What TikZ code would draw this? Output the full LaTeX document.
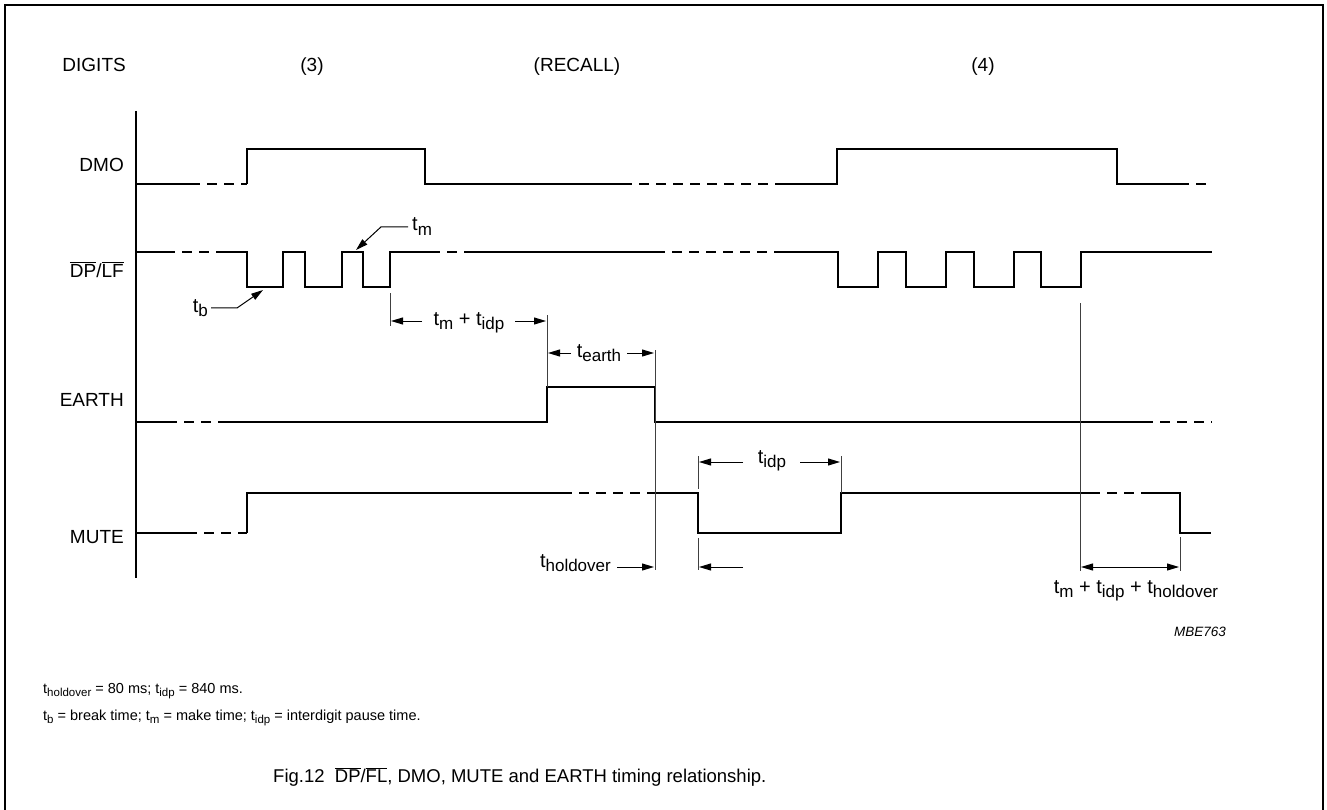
\documentclass[tikz,border=0pt]{standalone}
\usepackage{fontspec}
\setmainfont{Liberation Sans}
\usetikzlibrary{arrows.meta}

\newcommand{\tsub}[1]{\raisebox{-0.45ex}{\fontsize{17}{17}\selectfont #1}}
\newcommand{\fsub}[1]{\raisebox{-0.4ex}{\fontsize{11.5}{11.5}\selectfont #1}}
\newcommand{\ovl}[1]{$\overline{\mbox{#1}}$}

\begin{document}
\begin{tikzpicture}[x=1pt, y=-1pt]
	\tikzstyle{wave} = [line width=2.6pt]
	\tikzstyle{wavedash} = [line width=2.6pt, dash pattern=on 10pt off 7pt]
	\tikzstyle{tick} = [line width=0.9pt, black!75]
	\tikzstyle{dim} = [line width=1pt, -{Triangle[length=12pt, width=7pt]}]
	\tikzstyle{lbl} = [inner sep=0, font=\fontsize{19}{21}\selectfont]
	\tikzstyle{tlbl} = [inner sep=0, font=\fontsize{20}{22}\selectfont]

	\useasboundingbox (0,0) rectangle (1327,810);
	\draw[line width=1.4pt] (5,810) -- (5,5) -- (1323,5) -- (1323,810);

%	\foreach \x in {0,100,...,1300} {
%		\draw[gray!30] (\x,0) -- (\x,810);
%	}

	% signal names
	\node[lbl, anchor=base east] (digits) at (126,72) {DIGITS};
	\node[lbl, anchor=base east] (dmo) at (124,172) {DMO};
	\node[lbl, anchor=base east] (dplf) at (124,277) {\ovl{DP}/\ovl{LF}};
	\node[lbl, anchor=base east] (earth) at (124,406) {EARTH};
	\node[lbl, anchor=base east] (mute) at (124,543) {MUTE};

	\node[lbl, anchor=base] (dig3) at (312,72) {(3)};
	\node[lbl, anchor=base] (recall) at (577,72) {(RECALL)};
	\node[lbl, anchor=base] (dig4) at (983,72) {(4)};

	\draw[line width=1.3pt] (136,111) -- (136,578);

	% DMO
	\draw[wave] (136,184) -- (190,184);
	\draw[wavedash] (190,184) -- (247,184);
	\draw[wave] (247,184) -- (247,149) -- (425,149) -- (425,184) -- (622,184);
	\draw[wavedash] (622,184) -- (775,184);
	\draw[wave] (775,184) -- (837,184) -- (837,149) -- (1117,149) -- (1117,184) -- (1179,184);
	\draw[wavedash] (1179,184) -- (1212,184);

	% DP/LF
	\draw[wave] (136,252) -- (165,252);
	\draw[wavedash] (165,252) -- (217,252);
	\draw[wave] (217,252) -- (247,252) -- (247,287) -- (283,287) -- (283,252) -- (305,252)
		-- (305,287) -- (342,287) -- (342,252) -- (363,252) -- (363,287) -- (390,287)
		-- (390,252) -- (430,252);
	\draw[wavedash] (430,252) -- (470,252);
	\draw[wave] (470,252) -- (655,252);
	\draw[wavedash] (655,252) -- (783,252);
	\draw[wave] (783,252) foreach \x in {838,906,974,1041} {
			-- (\x,252) -- (\x,287) -- (\x+40,287) -- (\x+40,252)
		} -- (1212,252);

	% EARTH
	\draw[wave] (136,422) -- (167,422);
	\draw[wavedash] (167,422) -- (220,422);
	\draw[wave] (220,422) -- (547,422) -- (547,387) -- (655,387) -- (655,422) -- (1143,422);
	\draw[wavedash] (1143,422) -- (1212,422);

	% MUTE
	\draw[wave] (136,533) -- (187,533);
	\draw[wavedash] (187,533) -- (247,533);
	\draw[wave] (247,533) -- (247,493) -- (562,493);
	\draw[wavedash] (562,493) -- (655,493);
	\draw[wave] (655,493) -- (698,493) -- (698,533) -- (841,533) -- (841,493) -- (1090,493);
	\draw[wavedash] (1090,493) -- (1148,493);
	\draw[wave] (1148,493) -- (1180,493) -- (1180,533) -- (1211,533);

	% tm and tb pointers
	\node[tlbl, anchor=base west] (tm) at (412,231) {t\tsub{m}};
	\coordinate (tmtip) at (356,250);
	\draw[dim] (tm.west) ++(-4,0) -- ++(-27,0) -- (tmtip);
	\node[tlbl, anchor=base east] (tb) at (208,312) {t\tsub{b}};
	\coordinate (tbtip) at (263,290);
	\draw[dim] (tb.east) ++(3,0) -- ++(26,0) -- (tbtip);

	% tm + tidp
	\draw[tick] (390,293) -- (390,326);
	\draw[tick] (547,315) -- (547,387);
	\node[tlbl, anchor=base] (tmidp) at (469,325) {t\tsub{m} + t\tsub{idp}};
	\draw[dim] (422,321) -- (391,321);
	\draw[dim] (515,321) -- (546,321);

	% tearth
	\draw[tick] (655,350) -- (655,570);
	\node[tlbl, anchor=base] (tearth) at (599,357) {t\tsub{earth}};
	\draw[dim] (571,353) -- (548,353);
	\draw[dim] (627,353) -- (654,353);

	% tholdover
	\node[tlbl, anchor=base east] (thold) at (611,567) {t\tsub{holdover}};
	\draw[dim] (617,567) -- (654,567);

	% tidp
	\draw[tick] (698,456) -- (698,489);
	\draw[tick] (698,538) -- (698,570);
	\draw[tick] (841,456) -- (841,493);
	\node[tlbl, anchor=base] (tidp) at (772,463) {t\tsub{idp}};
	\draw[dim] (743,462) -- (699,462);
	\draw[dim] (800,462) -- (840,462);
	\draw[dim] (743,567) -- (699,567);

	% tm + tidp + tholdover
	\draw[tick] (1080,303) -- (1080,571);
	\draw[tick] (1180,537) -- (1180,571);
	\draw[line width=1pt, {Triangle[length=12pt, width=7pt]}-{Triangle[length=12pt, width=7pt]}]
		(1081,567) -- (1179,567);
	\node[tlbl, anchor=base] (tsum) at (1136,593) {t\tsub{m} + t\tsub{idp} + t\tsub{holdover}};

	\node[inner sep=0, anchor=base east, font=\fontsize{13.5}{15}\selectfont\itshape] (code) at (1226,636) {MBE763};

	% notes and caption
	\node[inner sep=0, anchor=base west, font=\fontsize{14.5}{16}\selectfont] (note1) at (43,693)
		{t\fsub{holdover} = 80 ms; t\fsub{idp} = 840 ms.};
	\node[inner sep=0, anchor=base west, font=\fontsize{14.5}{16}\selectfont] (note2) at (43,720)
		{t\fsub{b} = break time; t\fsub{m} = make time; t\fsub{idp} = interdigit pause time.};
	\node[inner sep=0, anchor=base west, font=\fontsize{18.5}{20}\selectfont] (caption) at (273,782)
		{Fig.12\ \ \ovl{DP}/\ovl{FL}, DMO, MUTE and EARTH timing relationship.};
\end{tikzpicture}
\end{document}
